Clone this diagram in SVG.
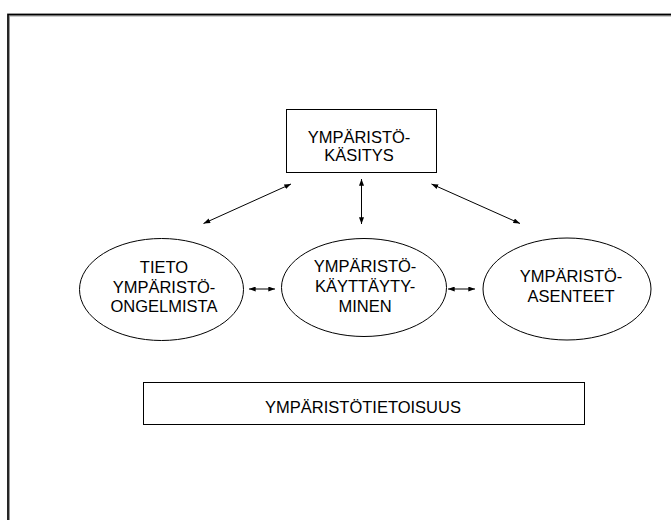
<svg xmlns="http://www.w3.org/2000/svg" width="671" height="520" viewBox="0 0 671 520">
<style>
text{font-family:"Liberation Sans",Arial,sans-serif;font-size:16.5px;fill:#000;text-anchor:middle}
.shape{fill:#fff;stroke:#000;stroke-width:1}
.conn{stroke:#000;stroke-width:1;fill:none;marker-start:url(#ah);marker-end:url(#ah)}
</style>
<defs>
<marker id="ah" viewBox="0 0 8 6" refX="8" refY="3" markerWidth="7" markerHeight="5" markerUnits="userSpaceOnUse" orient="auto-start-reverse">
<path d="M0,0 L8,3 L0,6 z" fill="#000"/>
</marker>
</defs>
<rect width="671" height="520" fill="#fff"/>
<rect x="8.5" y="15" width="700" height="600" fill="none" stroke="#999" stroke-width="3"/>
<rect x="8" y="14.5" width="700" height="600" fill="none" stroke="#000" stroke-width="1.5"/>
<g id="kasitys">
<rect class="shape" x="286.5" y="109.5" width="150" height="63"/>
<text x="359" y="143">YMPÄRISTÖ-</text>
<text x="359" y="161">KÄSITYS</text>
</g>
<g id="tieto">
<ellipse class="shape" cx="161.5" cy="289.5" rx="82" ry="51"/>
<text x="164" y="272.5">TIETO</text>
<text x="164" y="292.5">YMPÄRISTÖ-</text>
<text x="164" y="311.5">ONGELMISTA</text>
</g>
<g id="kayttaytyminen">
<ellipse class="shape" cx="364" cy="287.5" rx="82.5" ry="49"/>
<text x="365" y="271.5">YMPÄRISTÖ-</text>
<text x="365" y="291.5">KÄYTTÄYTY-</text>
<text x="365" y="311.5">MINEN</text>
</g>
<g id="asenteet">
<ellipse class="shape" cx="567" cy="289" rx="84" ry="51"/>
<text x="571" y="281.5">YMPÄRISTÖ-</text>
<text x="571" y="301.5">ASENTEET</text>
</g>
<g id="tietoisuus">
<rect class="shape" x="143.5" y="382.5" width="441" height="42"/>
<text x="363" y="413">YMPÄRISTÖTIETOISUUS</text>
</g>
<g id="connectors">
<line class="conn" x1="291" y1="184" x2="203.5" y2="223.5"/>
<line class="conn" x1="361.5" y1="179" x2="361.5" y2="224"/>
<line class="conn" x1="431.5" y1="184" x2="520" y2="223.5"/>
<line class="conn" x1="249" y1="289" x2="275" y2="289"/>
<line class="conn" x1="448" y1="289" x2="475" y2="289"/>
</g>
</svg>
